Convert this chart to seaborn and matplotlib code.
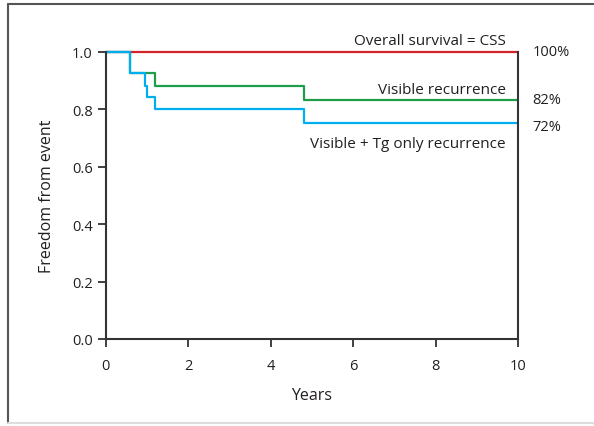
import matplotlib
matplotlib.use("Agg")
import matplotlib.pyplot as plt
import seaborn as sns
import pandas as pd
from matplotlib.lines import Line2D

# dati (curve a gradini)
anni_overall = [0, 10]
surv_overall = [1.0, 1.0]
anni_visible = [0, 0.58, 1.19, 4.8, 10]
surv_visible = [1.0, 0.926, 0.881, 0.833, 0.833]
anni_tg = [0, 0.58, 0.95, 1.0, 1.19, 4.8, 10]
surv_tg = [1.0, 0.926, 0.881, 0.842, 0.801, 0.753, 0.753]

serie = ["Overall survival = CSS", "Visible recurrence", "Visible + Tg only recurrence"]
percentuali = ["100%", "82%", "72%"]
colori = ["#d2232a", "#1e9e4a", "#00aeef"]

df = pd.concat([
    pd.DataFrame({"anni": anni_overall, "surv": surv_overall, "serie": serie[0]}),
    pd.DataFrame({"anni": anni_visible, "surv": surv_visible, "serie": serie[1]}),
    pd.DataFrame({"anni": anni_tg, "surv": surv_tg, "serie": serie[2]}),
])

sns.set_style("ticks")
plt.rcParams["font.family"] = ["Open Sans", "DejaVu Sans"]

fig = plt.figure(figsize=(5.94, 4.27), dpi=100)
ax = fig.add_axes([0.178, 0.204, 0.694, 0.672])

sns.lineplot(data=df, x="anni", y="surv", hue="serie", hue_order=serie,
             palette=colori, drawstyle="steps-post", linewidth=1.6,
             legend=False, ax=ax, estimator=None, sort=False)
for linea in ax.lines:
    linea.set_clip_on(False)

ax.set_xlim(0, 10)
ax.set_ylim(0, 1.0)
ax.set_xticks([0, 2, 4, 6, 8, 10])
ax.set_yticks([0.0, 0.2, 0.4, 0.6, 0.8, 1.0])
ax.set_yticklabels(["0.0", "0.2", "0.4", "0.6", "0.8", "1.0"])
ax.set_xlabel("Years", fontsize=11.5, color="#231f20", labelpad=10)
ax.set_ylabel("Freedom from event", fontsize=11.5, color="#231f20", labelpad=12)
ax.tick_params(labelsize=10.5, colors="#231f20", length=6, width=1.2, direction="out")
ax.tick_params(axis="x", pad=8)

for lato in ["left", "bottom", "right"]:
    ax.spines[lato].set_color("#333333")
    ax.spines[lato].set_linewidth(1.5)
ax.spines["top"].set_visible(False)

# etichette delle curve
ax.text(9.7, 1.015, serie[0], ha="right", va="bottom", fontsize=11, color="#231f20")
ax.text(9.7, 0.842, serie[1], ha="right", va="bottom", fontsize=11, color="#231f20")
ax.text(9.7, 0.706, serie[2], ha="right", va="top", fontsize=11, color="#231f20")
for valore, testo in zip([1.0, 0.835, 0.74], percentuali):
    ax.text(10.35, valore, testo, ha="left", va="center", fontsize=10.5,
            color="#231f20", clip_on=False)

# cornice della figura
fig.add_artist(Line2D([8 / 594, 8 / 594], [1 - 5 / 427, 1 - 424 / 427],
                      transform=fig.transFigure, color="#555555", linewidth=1.5))
fig.add_artist(Line2D([8 / 594, 1], [1 - 5 / 427, 1 - 5 / 427],
                      transform=fig.transFigure, color="#555555", linewidth=1.5))
fig.add_artist(Line2D([8 / 594, 1], [1 - 424 / 427, 1 - 424 / 427],
                      transform=fig.transFigure, color="#dddddd", linewidth=1.5))

fig.savefig("out.png", dpi=100)
